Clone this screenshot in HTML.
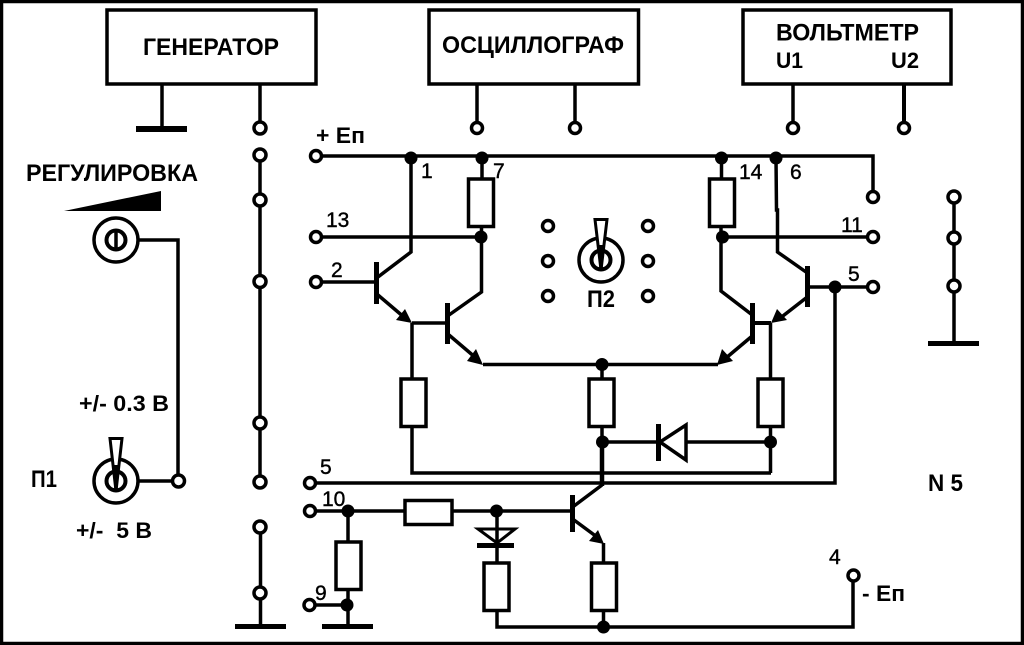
<!DOCTYPE html>
<html><head><meta charset="utf-8"><style>
html,body{margin:0;padding:0;background:#fff}
svg{display:block}
line,polyline,path{stroke:#000;stroke-width:3.5;fill:none}
rect{fill:#fff;stroke:#000;stroke-width:3.5}
circle{fill:#fff;stroke:#000;stroke-width:3.5}
circle.d{fill:#000;stroke:none}
rect.k{fill:#000;stroke:none}
polygon.a{fill:#000;stroke:none}
polygon.o{fill:#fff;stroke:#000;stroke-width:3.5}
text{font-family:"Liberation Sans",sans-serif;font-weight:bold;fill:#000}
.b{font-size:24px}
.n{font-size:21px;font-weight:normal;stroke:#000;stroke-width:.4}
.l{font-size:22px}
</style></head><body>
<svg width="1024" height="645" viewBox="0 0 1024 645" xmlns="http://www.w3.org/2000/svg">
<rect x="1.5" y="1.5" width="1021" height="642" style="stroke-width:3.5;fill:#fff"/>
<!-- boxes -->
<rect x="107" y="10" width="209" height="74"/>
<rect x="429" y="10" width="209.5" height="74"/>
<rect x="743" y="10" width="208" height="74"/>
<text class="b" x="143" y="55" textLength="136" lengthAdjust="spacingAndGlyphs">ГЕНЕРАТОР</text>
<text class="b" x="442" y="53" textLength="182" lengthAdjust="spacingAndGlyphs">ОСЦИЛЛОГРАФ</text>
<text class="b" x="776" y="40.5" textLength="143" lengthAdjust="spacingAndGlyphs">ВОЛЬТМЕТР</text>
<text class="b" x="776" y="68" textLength="27" lengthAdjust="spacingAndGlyphs" style="font-size:22px">U1</text>
<text class="b" x="891" y="68" textLength="28" lengthAdjust="spacingAndGlyphs" style="font-size:22px">U2</text>
<!-- instrument leads -->
<line x1="162" y1="84" x2="162" y2="128"/>
<rect class="k" x="136" y="126" width="51" height="6"/>
<line x1="260" y1="84" x2="260" y2="122"/>
<line x1="477" y1="84" x2="477" y2="122"/>
<line x1="575" y1="84" x2="575" y2="122"/>
<line x1="793" y1="84" x2="793" y2="122"/>
<line x1="904" y1="84" x2="904" y2="122" style="stroke-width:4"/>
<circle cx="477" cy="128" r="5.5"/><circle cx="575" cy="128" r="5.5"/>
<circle cx="793" cy="128" r="5.5"/><circle cx="904" cy="128" r="5.5"/>
<!-- bus column -->
<line x1="260" y1="155" x2="260" y2="482"/>
<line x1="260.5" y1="527" x2="260.5" y2="626"/>
<rect class="k" x="235" y="624" width="51" height="5"/>
<circle cx="260" cy="128" r="6"/><circle cx="260" cy="155" r="6"/><circle cx="260" cy="200" r="6"/>
<circle cx="260" cy="281.5" r="6"/><circle cx="260" cy="423" r="6"/><circle cx="260" cy="482" r="6"/>
<circle cx="260" cy="527" r="6"/><circle cx="260" cy="593" r="6"/>
<!-- left controls -->
<text class="b" x="26" y="181" textLength="172" lengthAdjust="spacingAndGlyphs">РЕГУЛИРОВКА</text>
<polygon class="a" points="64,211 161,191 161,211"/>
<polyline points="139,240 178,240 178,481"/>
<line x1="139" y1="481" x2="178" y2="481"/>
<circle cx="116" cy="240" r="22"/>
<circle cx="116" cy="240" r="9.5" style="stroke-width:4"/>
<line x1="116" y1="230" x2="116" y2="250"/>
<circle cx="178.5" cy="481" r="6"/>
<circle cx="116" cy="481" r="22"/>
<circle cx="116" cy="481" r="9.5" style="stroke-width:4"/>
<polygon points="110,438.5 122,438.5 116,491" style="fill:#fff;stroke:#000;stroke-width:3"/>
<line x1="116" y1="465" x2="116" y2="491"/>
<text class="l" x="79" y="411" textLength="90" lengthAdjust="spacingAndGlyphs">+/- 0.3 В</text>
<text class="b" x="31" y="487" textLength="26" lengthAdjust="spacingAndGlyphs">П1</text>
<text class="l" x="76" y="538" textLength="76" lengthAdjust="spacingAndGlyphs" xml:space="preserve">+/-  5 В</text>
<!-- rails -->
<polyline points="316,156 873,156 873,191"/>
<line x1="316" y1="237" x2="481" y2="237"/>
<line x1="722" y1="237" x2="867" y2="237"/>
<line x1="316" y1="282" x2="376" y2="282"/>
<!-- Q1 -->
<polyline points="411,158 411,252 378,277"/>
<rect class="k" x="374" y="262" width="5" height="42"/>
<line x1="378" y1="295" x2="405" y2="318"/>
<polygon class="a" points="412,323 396,320 405,309"/>
<polyline points="412,323 412,378"/>
<line x1="412" y1="323" x2="446" y2="323"/>
<!-- Q2 -->
<polyline points="482,158 482,178"/>
<rect x="468.5" y="179" width="25" height="47.5"/>
<polyline points="481.5,227 481.5,292 449,315"/>
<rect class="k" x="445" y="303" width="5" height="41"/>
<line x1="449" y1="335" x2="476" y2="358"/>
<polygon class="a" points="483,365 467,361 476,349"/>
<line x1="483" y1="364.5" x2="718" y2="364.5"/>
<!-- Q3 -->
<line x1="721.5" y1="158" x2="721.5" y2="178"/>
<rect x="709.5" y="179" width="25" height="47.5"/>
<polyline points="721,227 721,291 751,314"/>
<rect class="k" x="750" y="303" width="5" height="41"/>
<line x1="751" y1="337" x2="726" y2="358"/>
<polygon class="a" points="717,365 722,349 733,361"/>
<!-- Q4 -->
<polyline points="776,158 776.5,210 777.5,210 777.5,252 806,272"/>
<rect class="k" x="805" y="266" width="5" height="41"/>
<line x1="806" y1="298" x2="779" y2="319"/>
<polygon class="a" points="771,323 777,309 787,320"/>
<line x1="755" y1="323" x2="771" y2="323" style="stroke-width:4"/>
<line x1="770.5" y1="323" x2="770.5" y2="378"/>
<line x1="808" y1="287" x2="867" y2="287"/>
<polyline points="835,287 835,483 310,483"/>
<!-- lower resistors -->
<rect x="401" y="379" width="25" height="47.5"/>
<rect x="589" y="379" width="25" height="47.5"/>
<rect x="758" y="379" width="25" height="47.5"/>
<line x1="602" y1="364" x2="602" y2="378"/>
<polyline points="412,427 412,473 771,473"/>
<polyline points="770.5,427 770.5,473"/>
<line x1="602" y1="427" x2="602" y2="442"/>
<line x1="602" y1="442" x2="770" y2="442"/>
<line x1="602" y1="442" x2="602" y2="486" style="stroke-width:4.5"/>
<!-- diode right -->
<polygon class="o" points="686,425 686,460 660,442"/>
<rect class="k" x="656" y="424" width="5" height="37"/>
<!-- Q5 -->
<line x1="316" y1="511" x2="571" y2="511"/>
<rect x="405" y="500.5" width="47" height="24"/>
<rect class="k" x="570" y="495" width="5" height="37"/>
<line x1="574" y1="506" x2="602" y2="485"/>
<line x1="574" y1="520" x2="597" y2="537"/>
<polygon class="a" points="604,544 589,541 598,530"/>
<line x1="603.5" y1="543" x2="603.5" y2="562"/>
<rect x="591.5" y="563" width="25" height="47.5"/>
<line x1="603.5" y1="611" x2="603.5" y2="627"/>
<!-- diode lower -->
<line x1="497" y1="511" x2="497" y2="562"/>
<polygon points="478,529 515,529 497,543" style="fill:none;stroke:#000;stroke-width:3"/>
<rect class="k" x="477" y="543" width="37" height="5"/>
<rect x="484" y="563" width="25" height="47.5"/>
<polyline points="497,611 497,627 853,627 853,580"/>
<!-- left resistor -->
<line x1="348" y1="511" x2="348" y2="541"/>
<rect x="336" y="542" width="25" height="47.5"/>
<line x1="348" y1="590" x2="348" y2="626"/>
<line x1="310" y1="605" x2="347" y2="605"/>
<rect class="k" x="322" y="624" width="51" height="5"/>
<!-- junction dots -->
<circle class="d" cx="411" cy="158" r="6.5"/><circle class="d" cx="482" cy="158" r="6.5"/>
<circle class="d" cx="721.5" cy="158" r="6.5"/><circle class="d" cx="776" cy="158" r="6.5"/>
<circle class="d" cx="481" cy="237" r="6.5"/><circle class="d" cx="722.5" cy="237" r="6.5"/>
<circle class="d" cx="835" cy="287" r="6.5"/><circle class="d" cx="602" cy="364.5" r="6.5"/>
<circle class="d" cx="602.5" cy="442" r="6.5"/><circle class="d" cx="770.5" cy="442" r="6.5"/>
<circle class="d" cx="348" cy="511" r="6.5"/><circle class="d" cx="496.5" cy="511" r="6.5"/>
<circle class="d" cx="347" cy="605" r="6.5"/><circle class="d" cx="603.5" cy="627" r="6.5"/>
<!-- terminals -->
<circle cx="316" cy="156" r="5.5"/><circle cx="316" cy="237" r="5.5"/><circle cx="316" cy="282" r="5.5"/>
<circle cx="310" cy="483" r="5.5"/><circle cx="310" cy="511" r="5.5"/><circle cx="309.5" cy="605" r="5.5"/>
<circle cx="873" cy="197" r="5.5"/><circle cx="873" cy="237" r="5.5"/><circle cx="873" cy="287" r="5.5"/>
<circle cx="853.5" cy="575.5" r="5.5"/>
<!-- center switch -->
<circle cx="548" cy="226" r="5.5"/><circle cx="548" cy="261" r="5.5"/><circle cx="548" cy="296" r="5.5"/>
<circle cx="648" cy="226" r="5.5"/><circle cx="648" cy="261" r="5.5"/><circle cx="648" cy="296" r="5.5"/>
<circle cx="601" cy="260" r="22"/>
<circle cx="601" cy="260" r="9.5" style="stroke-width:4"/>
<polygon points="595,219.5 607,219.5 601,270" style="fill:#fff;stroke:#000;stroke-width:3"/>
<line x1="601" y1="245" x2="601" y2="270"/>
<text class="b" x="587" y="307" textLength="28" lengthAdjust="spacingAndGlyphs">П2</text>
<!-- right column -->
<line x1="954" y1="197" x2="954" y2="343"/>
<rect class="k" x="928" y="341" width="51" height="5"/>
<circle cx="954" cy="197" r="6"/><circle cx="954" cy="238" r="6"/><circle cx="954" cy="286" r="6"/>
<!-- labels -->
<text class="l" x="316" y="143" textLength="49" lengthAdjust="spacingAndGlyphs">+ Еп</text>
<text class="n" x="421" y="178">1</text>
<text class="n" x="493" y="178">7</text>
<text class="n" x="326" y="227">13</text>
<text class="n" x="331" y="277">2</text>
<text class="n" x="739" y="179">14</text>
<text class="n" x="790" y="179">6</text>
<text class="n" x="841" y="232">11</text>
<text class="n" x="848" y="281">5</text>
<text class="n" x="320" y="474">5</text>
<text class="n" x="322" y="506">10</text>
<text class="n" x="315" y="600">9</text>
<text class="n" x="829" y="564">4</text>
<text class="b" x="928" y="491" textLength="35" lengthAdjust="spacingAndGlyphs">N 5</text>
<text class="l" x="862" y="601" textLength="43" lengthAdjust="spacingAndGlyphs">- Еп</text>
</svg>
</body></html>
